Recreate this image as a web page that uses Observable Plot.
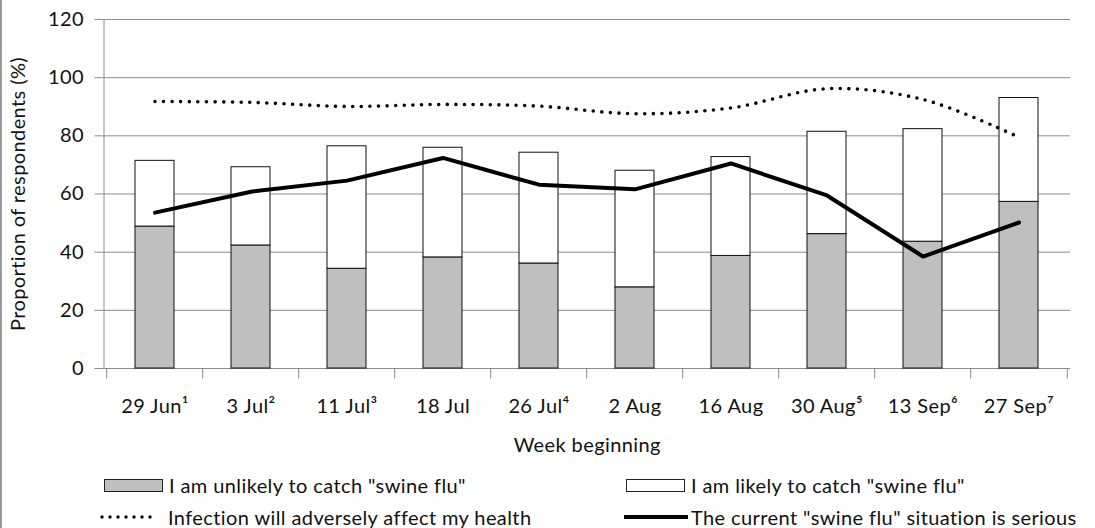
<!DOCTYPE html>
<html>
<head>
<meta charset="utf-8">
<script src="https://cdn.jsdelivr.net/npm/d3@7"></script>
<script src="https://cdn.jsdelivr.net/npm/@observablehq/plot@0.6"></script>
<style>
  html, body { margin: 0; padding: 0; background: #fff; }
  #wrap { position: relative; width: 1095px; height: 528px; font-family: Lato, "Open Sans", sans-serif; color: #111; overflow: hidden; }
  #border { position: absolute; left: 0; top: 0; width: 2px; height: 528px; background: #9a9a9a; }
  #chart { position: absolute; left: 0; top: 0; }
  .leg { position: absolute; font-size: 20px; letter-spacing: 0.4px; line-height: 20px; white-space: nowrap; display: flex; align-items: center; }
  .sw { display: inline-block; box-sizing: border-box; }
</style>
</head>
<body>
<div id="wrap">
  <div id="chart"></div>
  <div id="border"></div>
  <div id="legend"></div>
</div>
<script>
const weeks = ["29 Jun", "3 Jul", "11 Jul", "18 Jul", "26 Jul", "2 Aug", "16 Aug", "30 Aug", "13 Sep", "27 Sep"];
const footnotes = ["¹", "²", "³", "", "⁴", "", "", "⁵", "⁶", "⁷"];
const unlikely = [48.8, 42.3, 34.3, 38.2, 36.1, 27.9, 38.7, 46.2, 43.6, 57.3];
const likely = [22.6, 26.9, 42.1, 37.7, 38.1, 40.1, 34.0, 35.2, 38.7, 35.7];
const health = [91.8, 91.5, 90.1, 90.8, 90.2, 87.6, 89.6, 96.2, 92.5, 79.5];
const serious = [53.6, 60.8, 64.6, 72.4, 63.2, 61.6, 70.5, 59.5, 38.5, 50.2];
const yTicks = [0, 20, 40, 60, 80, 100, 120];
const seriesNames = [
  'I am unlikely to catch "swine flu"',
  'I am likely to catch "swine flu"',
  'Infection will adversely affect my health',
  'The current "swine flu" situation is serious'
];

const data = weeks.map((w, i) => ({
  week: w, label: w + footnotes[i],
  unlikely: unlikely[i], likely: likely[i], top: unlikely[i] + likely[i],
  health: health[i], serious: serious[i]
}));

const W = 1095, H = 460, mL = 103.5, mR = 25, mT = 19, mB = 92;
const step = (W - mL - mR) / weeks.length;
const grid = "#8c8c8c";
const labelOf = Object.fromEntries(data.map(d => [d.week, d.label]));

const chart = Plot.plot({
  width: W, height: H,
  marginLeft: mL, marginRight: mR, marginTop: mT, marginBottom: mB,
  style: { fontFamily: "Lato, 'Open Sans', sans-serif", fontSize: "20px", letterSpacing: "0.4px", color: "#111", background: "transparent" },
  x: { type: "band", domain: weeks, paddingInner: 0.594, paddingOuter: 0.297, label: null },
  y: { domain: [0, 120], label: null },
  marks: [
    Plot.ruleY(yTicks.filter(t => t > 0), { stroke: grid, strokeWidth: 1 }),
    Plot.ruleY([0], { stroke: grid, strokeWidth: 1 }),
    Plot.frame({ anchor: "left", stroke: grid, strokeWidth: 1 }),
    Plot.ruleX(data, { x: "week", y1: 0, y2: -3.6, dx: -step / 2, stroke: grid }),
    Plot.ruleX(data.slice(-1), { x: "week", y1: 0, y2: -3.6, dx: step / 2, stroke: grid }),
    Plot.axisY(yTicks, { tickSize: 9, tickPadding: 11, stroke: grid, fontSize: 20, label: null }),
    Plot.axisX({ tickSize: 0, tickPadding: 30, fontSize: 20, tickFormat: d => labelOf[d], label: null }),
    Plot.barY(data, { x: "week", y1: 0, y2: "unlikely", fill: "#bfbfbf", stroke: "#111", strokeWidth: 1 }),
    Plot.barY(data, { x: "week", y1: "unlikely", y2: "top", fill: "#fff", stroke: "#111", strokeWidth: 1 }),
    Plot.line(data, { x: "week", y: "health", curve: "catmull-rom", stroke: "#000", strokeWidth: 3.6, strokeDasharray: "0 8.6", strokeLinecap: "round" }),
    Plot.line(data, { x: "week", y: "serious", stroke: "#000", strokeWidth: 4, strokeLinejoin: "round", strokeLinecap: "round" }),
    Plot.text(["Week beginning"], { frameAnchor: "bottom", dy: 83, fontSize: 20, fill: "#111" }),
    Plot.text(["Proportion of respondents (%)"], { frameAnchor: "left", textAnchor: "middle", dx: -85.5, rotate: -90, fontSize: 20, fill: "#111" })
  ]
});
document.getElementById("chart").appendChild(chart);

// Legend
const legend = document.getElementById("legend");
function item(x, y, swatchHTML, text) {
  const d = document.createElement("div");
  d.className = "leg";
  d.style.left = x + "px";
  d.style.top = (y - 10) + "px";
  d.innerHTML = swatchHTML + '<span></span>';
  d.lastChild.textContent = text;
  legend.appendChild(d);
}
const box = fill => `<span class="sw" style="width:59px;height:13px;background:${fill};border:1px solid #222;margin-right:6px"></span>`;
const dots = `<svg width="60" height="8" style="margin-right:8px"><line x1="2" y1="4" x2="58" y2="4" stroke="#000" stroke-width="3.4" stroke-dasharray="0 8" stroke-linecap="round"/></svg>`;
const solid = `<svg width="64" height="8" style="margin-right:3px"><line x1="1" y1="4" x2="63" y2="4" stroke="#000" stroke-width="4" stroke-linecap="round"/></svg>`;
item(104, 485, box("#bfbfbf"), seriesNames[0]);
item(626, 485, box("#fff"), seriesNames[1]);
item(100, 517, dots, seriesNames[2]);
item(624, 517, solid, seriesNames[3]);
</script>
</body>
</html>
